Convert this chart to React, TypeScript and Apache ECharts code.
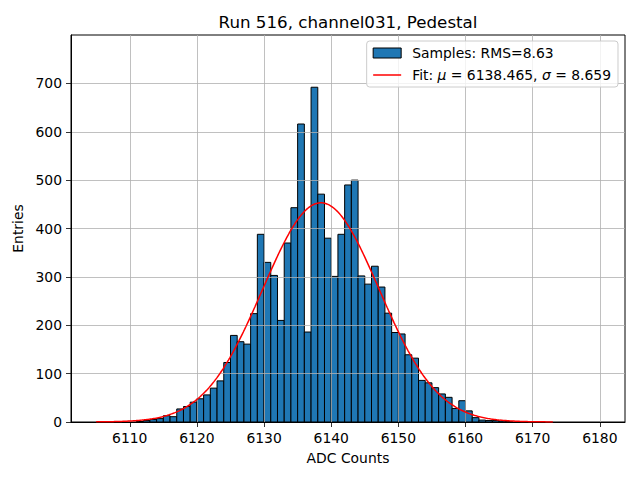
import React, { useEffect, useRef } from "react";
import * as echarts from "echarts";

// ---- data ----
const binLeftEdges = [
  6111, 6112, 6113, 6114, 6115, 6116, 6117, 6118, 6119, 6120,
  6121, 6122, 6123, 6124, 6125, 6126, 6127, 6128, 6129, 6130,
  6131, 6132, 6133, 6134, 6135, 6136, 6137, 6138, 6139, 6140,
  6141, 6142, 6143, 6144, 6145, 6146, 6147, 6148, 6149, 6150,
  6151, 6152, 6153, 6154, 6155, 6156, 6157, 6158, 6159, 6160,
  6161, 6162, 6163, 6164, 6165, 6166,
];
const counts = [
  1, 3, 5, 7, 13, 11, 27, 32, 41, 48,
  56, 70, 85, 123, 179, 166, 161, 224, 388, 330,
  303, 210, 370, 443, 616, 186, 692, 471, 380, 301,
  388, 490, 500, 302, 285, 322, 279, 225, 185, 182,
  139, 132, 86, 81, 71, 58, 51, 28, 44, 23,
  9, 4, 3, 3, 2, 1,
];
const binWidth = 1;
const xTickValues = [6110, 6120, 6130, 6140, 6150, 6160, 6170, 6180];
const yTickValues = [0, 100, 200, 300, 400, 500, 600, 700];
const xRange = [6101.25, 6183.75];
const yRange = [0, 800];
const fitMu = 6138.465;
const fitSigma = 8.659;
const fitRange = [6105, 6173];
const rms = 8.63;

const titleText = "Run 516, channel031, Pedestal";
const xName = "ADC Counts";
const yName = "Entries";
const histName = `Samples: RMS=${rms.toFixed(2)}`;
const fitName = `Fit: μ = ${fitMu.toFixed(3)}, σ = ${fitSigma.toFixed(3)}`;

const FONT = "DejaVu Sans";
// thin horizontal line icon (invisible anchor points keep the 28x10 box)
const LINE_ICON = "path://M0,0L0,0M0,4.25L28,4.25L28,5.75L0,5.75ZM28,10L28,10";

function buildFitCurve(): number[][] {
  const total = counts.reduce((a, b) => a + b, 0);
  const amp = (total * binWidth) / (fitSigma * Math.sqrt(2 * Math.PI));
  const pts: number[][] = [];
  const n = 400;
  for (let i = 0; i <= n; i++) {
    const x = fitRange[0] + ((fitRange[1] - fitRange[0]) * i) / n;
    const z = (x - fitMu) / fitSigma;
    pts.push([x, amp * Math.exp(-0.5 * z * z)]);
  }
  return pts;
}

export default function App() {
  const ref = useRef<HTMLDivElement>(null);

  useEffect(() => {
    if (!ref.current) return;
    const chart = echarts.init(ref.current, null, { renderer: "svg" });
    const histData = binLeftEdges.map((e, i) => [e, e + binWidth, counts[i]]);

    const option: any = {
      animation: false,
      backgroundColor: "#ffffff",
      textStyle: { fontFamily: FONT },
      grid: {
        left: 71,
        right: 15,
        top: 35,
        bottom: 58,
        show: true,
        borderColor: "#000000",
        borderWidth: 1,
        backgroundColor: "transparent",
      },
      graphic: [
        {
          type: "text",
          x: 348,
          y: 22,
          style: {
            text: titleText,
            fill: "#000000",
            font: `16.7px "${FONT}"`,
            textAlign: "center",
            textVerticalAlign: "middle",
          },
        },
      ],
      legend: {
        orient: "vertical",
        right: 22,
        top: 41,
        padding: [5, 7, 5, 6],
        itemGap: 8,
        itemWidth: 28,
        itemHeight: 10,
        backgroundColor: "rgba(255,255,255,0.8)",
        borderColor: "#cccccc",
        borderWidth: 1,
        borderRadius: 3,
        selectedMode: false,
        textStyle: {
          fontFamily: FONT,
          fontSize: 13.9,
          color: "#000000",
          lineHeight: 14,
          padding: [0, 0, 0, 6],
          rich: {
            i: { fontStyle: "italic", fontFamily: FONT, fontSize: 13.9, lineHeight: 14 },
          },
        },
        formatter: (name: string) => {
          if (name === fitName) {
            return `Fit: {i|μ} = ${fitMu.toFixed(3)}, {i|σ} = ${fitSigma.toFixed(3)}`;
          }
          return name;
        },
        data: [
          {
            name: histName,
            icon: "rect",
            itemStyle: { color: "#1f77b4", borderColor: "#000000", borderWidth: 1 },
          },
          {
            name: fitName,
            icon: LINE_ICON,
            itemStyle: { color: "#ff0000", borderWidth: 0 },
          },
        ],
      },
      xAxis: {
        type: "value",
        min: xRange[0],
        max: xRange[1],
        z: 3,
        name: xName,
        nameLocation: "middle",
        nameGap: 29,
        nameTextStyle: { fontFamily: FONT, fontSize: 13.9, color: "#000000", verticalAlign: "top" },
        axisLine: { show: true, onZero: false, lineStyle: { color: "#000000", width: 1 } },
        axisTick: {
          show: true,
          inside: false,
          length: 5,
          customValues: xTickValues,
          lineStyle: { color: "#000000", width: 0.8 },
        },
        axisLabel: {
          show: true,
          margin: 9,
          customValues: xTickValues,
          fontFamily: FONT,
          fontSize: 13.9,
          color: "#000000",
          formatter: (v: number) => String(Math.round(v)),
        },
        splitLine: { show: true, lineStyle: { color: "#b0b0b0", width: 0.8 } },
      },
      yAxis: {
        type: "value",
        min: yRange[0],
        max: yRange[1],
        z: 3,
        name: yName,
        nameLocation: "middle",
        nameGap: 38,
        nameRotate: 90,
        nameTextStyle: { fontFamily: FONT, fontSize: 13.9, color: "#000000" },
        axisLine: { show: true, lineStyle: { color: "#000000", width: 1 } },
        axisTick: {
          show: true,
          inside: false,
          length: 5,
          customValues: yTickValues,
          lineStyle: { color: "#000000", width: 0.8 },
        },
        axisLabel: {
          show: true,
          margin: 9,
          customValues: yTickValues,
          fontFamily: FONT,
          fontSize: 13.9,
          color: "#000000",
        },
        splitLine: { show: true, lineStyle: { color: "#b0b0b0", width: 0.8 } },
      },
      series: [
        {
          name: histName,
          type: "custom",
          z: 2,
          encode: { x: [0, 1], y: 2 },
          data: histData,
          renderItem: (params: any, api: any) => {
            const x0 = api.value(0);
            const x1 = api.value(1);
            const h = api.value(2);
            const p0 = api.coord([x0, 0]);
            const p1 = api.coord([x1, h]);
            return {
              type: "rect",
              shape: {
                x: p0[0],
                y: p1[1],
                width: p1[0] - p0[0],
                height: p0[1] - p1[1],
              },
              style: { fill: "#1f77b4", stroke: "#000000", lineWidth: 1 },
            };
          },
        },
        {
          name: fitName,
          type: "line",
          z: 5,
          showSymbol: false,
          symbol: "none",
          data: buildFitCurve(),
          lineStyle: { color: "#ff0000", width: 1.5 },
          itemStyle: { color: "#ff0000" },
        },
      ],
    };

    chart.setOption(option);
    return () => chart.dispose();
  }, []);

  return (
    <div
      ref={ref}
      style={{ position: "fixed", left: 0, top: 0, width: 640, height: 480 }}
    />
  );
}
